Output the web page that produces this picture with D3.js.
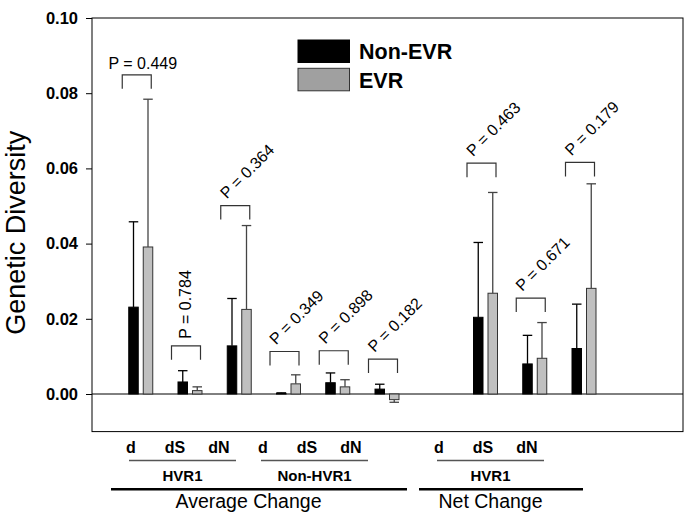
<!DOCTYPE html>
<html><head><meta charset="utf-8">
<script src="https://cdn.jsdelivr.net/npm/d3@7"></script>
<style>
html,body{margin:0;padding:0;background:#fff;}
svg{display:block;font-family:"Liberation Sans",Arial,sans-serif;}
</style></head>
<body><svg id="chart" width="689" height="525"></svg>
<script>
// ---- data ----
const categories = ["d","dS","dN","d","dS","dN","d","dS","dN"];
const slots = [0,1,2,3,4,5,7,8,9];
const nonEVR = [0.0231,0.0032,0.0128,0.0002,0.0030,0.0013,0.0204,0.0080,0.0121];
const nonEVRErrTop = [0.0458,0.0062,0.0254,0.0003,0.0056,0.0026,0.0403,0.0156,0.0239];
const EVR = [0.0391,0.0009,0.0225,0.0027,0.0019,-0.0015,0.0268,0.0095,0.0281];
const EVRErrTop = [0.0784,0.0019,0.0448,0.0051,0.0038,-0.0022,0.0536,0.0190,0.0559];
const pValues = ["0.449","0.784","0.364","0.349","0.898","0.182","0.463","0.671","0.179"];
const pBracket = [0.0849,0.0128,0.0501,0.0113,0.0115,0.0093,0.0614,0.0255,0.0616];
const pAngle = [0,-90,-45,-45,-45,-45,-45,-45,-45];
const yTicks = [0,0.02,0.04,0.06,0.08,0.10];
const subGroups = [{name:"HVR1",from:0,to:2},{name:"Non-HVR1",from:3,to:5},{name:"HVR1",from:7,to:9}];
const mainGroups = [{name:"Average Change",sub:[0,1]},{name:"Net Change",sub:[2]}];
const seriesNames = ["Non-EVR","EVR"];

// ---- layout ----
const svg = d3.select("#chart");
const L=92, R=683, T=18, B=431.6;
const y = d3.scaleLinear().domain([-0.01,0.10]).range([B,T]);
const x = d3.scaleLinear().domain([-1,11]).range([L,R]);
const xl = d3.scaleLinear().domain([0,9]).range([131,527]); // category label positions
const bw = 9.5;

// frame
svg.append("rect").attr("x",L).attr("y",T).attr("width",R-L).attr("height",B-T)
  .attr("fill","none").attr("stroke","#000").attr("stroke-width",1);
// zero line
svg.append("line").attr("x1",L).attr("x2",R).attr("y1",y(0)).attr("y2",y(0))
  .attr("stroke","#000").attr("stroke-width",1);

// y axis
const yAxis = d3.axisLeft(y).tickValues(yTicks).tickFormat(d3.format(".2f")).tickSize(6).tickPadding(8);
const ga = svg.append("g").attr("transform",`translate(${L},0)`).call(yAxis);
ga.select(".domain").remove();
ga.selectAll("text").attr("font-size",16.5).attr("font-weight","bold").attr("fill","#000")
  .attr("font-family","'Liberation Sans',Arial,sans-serif");
ga.selectAll("line").attr("stroke","#000");

svg.append("text").attr("transform",`translate(25,${(T+B)/2 + 8}) rotate(-90)`)
  .attr("text-anchor","middle").attr("font-size",27).text("Genetic Diversity");

// bars
const series = [
  {vals:nonEVR, err:nonEVRErrTop, off:-12.5, fill:"#000", stroke:"#000", wcol:"#000"},
  {vals:EVR, err:EVRErrTop, off:2, fill:"#c0c0c0", stroke:"#333", wcol:"#444"}
];
series.forEach(s=>{
  const g = svg.append("g");
  s.vals.forEach((v,i)=>{
    const cx = x(slots[i]) + s.off;
    const top = Math.min(y(v),y(0)), h = Math.abs(y(v)-y(0));
    g.append("rect").attr("x",cx).attr("y",top).attr("width",bw).attr("height",Math.max(h,0.8))
      .attr("fill",s.fill).attr("stroke",s.stroke).attr("stroke-width",1);
    const mx = cx + bw/2;
    g.append("line").attr("x1",mx).attr("x2",mx).attr("y1",y(v)).attr("y2",y(s.err[i]))
      .attr("stroke",s.wcol).attr("stroke-width",1.3);
    g.append("line").attr("x1",cx).attr("x2",cx+bw).attr("y1",y(s.err[i])).attr("y2",y(s.err[i]))
      .attr("stroke",s.wcol).attr("stroke-width",1.3);
  });
});

// p-value brackets
pBracket.forEach((b,i)=>{
  const c = x(slots[i]);
  const yt = y(b);
  svg.append("path").attr("d",`M${c-19},${yt+14}V${yt}H${c+10}V${yt+14}`)
    .attr("fill","none").attr("stroke","#333").attr("stroke-width",1.2);
  const t = svg.append("text").attr("font-size",16).attr("fill","#000").text("P = "+pValues[i]);
  if(pAngle[i]===0){
    t.attr("x",c+1.5).attr("y",yt-6).attr("text-anchor","middle");
  } else if(pAngle[i]===-90){
    t.attr("transform",`translate(${c},${yt-7}) rotate(-90)`);
  } else {
    t.attr("transform",`translate(${c-13},${yt-6}) rotate(${pAngle[i]})`);
  }
});

// legend
const lg = svg.append("g");
[["#000","#000"],["#a0a0a0","#333"]].forEach((c,i)=>{
  lg.append("rect").attr("x",298).attr("y",40+i*28.3).attr("width",51.5).attr("height",22.5)
    .attr("fill",c[0]).attr("stroke",c[1]).attr("stroke-width",1);
  lg.append("text").attr("x",359).attr("y",58.5+i*29.5).attr("font-size",21.5)
    .attr("font-weight","bold").text(seriesNames[i]);
});

// x category labels
categories.forEach((c,i)=>{
  svg.append("text").attr("x",xl(slots[i])).attr("y",452.5).attr("text-anchor","middle")
    .attr("font-size",16).attr("font-weight","bold").text(c);
});
const subCenters = subGroups.map(sg=>{
  const x1 = xl(sg.from)-2, x2 = xl(sg.to)+17;
  svg.append("line").attr("x1",x1).attr("x2",x2).attr("y1",460.5).attr("y2",460.5)
    .attr("stroke","#555").attr("stroke-width",1.5);
  svg.append("text").attr("x",(x1+x2)/2).attr("y",480.5).attr("text-anchor","middle")
    .attr("font-size",15).attr("font-weight","bold").text(sg.name);
  return {x1,x2,c:(x1+x2)/2};
});
mainGroups.forEach(mg=>{
  const f = subGroups[mg.sub[0]], l = subGroups[mg.sub[mg.sub.length-1]];
  const x1 = xl(f.from)-20, x2 = xl(l.to)+56;
  svg.append("line").attr("x1",x1).attr("x2",x2).attr("y1",489.3).attr("y2",489.3)
    .attr("stroke","#000").attr("stroke-width",2.5);
  const cx = d3.mean(mg.sub.map(k=>subCenters[k].c));
  svg.append("text").attr("x",cx).attr("y",507.5).attr("text-anchor","middle")
    .attr("font-size",19.5).text(mg.name);
});
</script></body></html>
